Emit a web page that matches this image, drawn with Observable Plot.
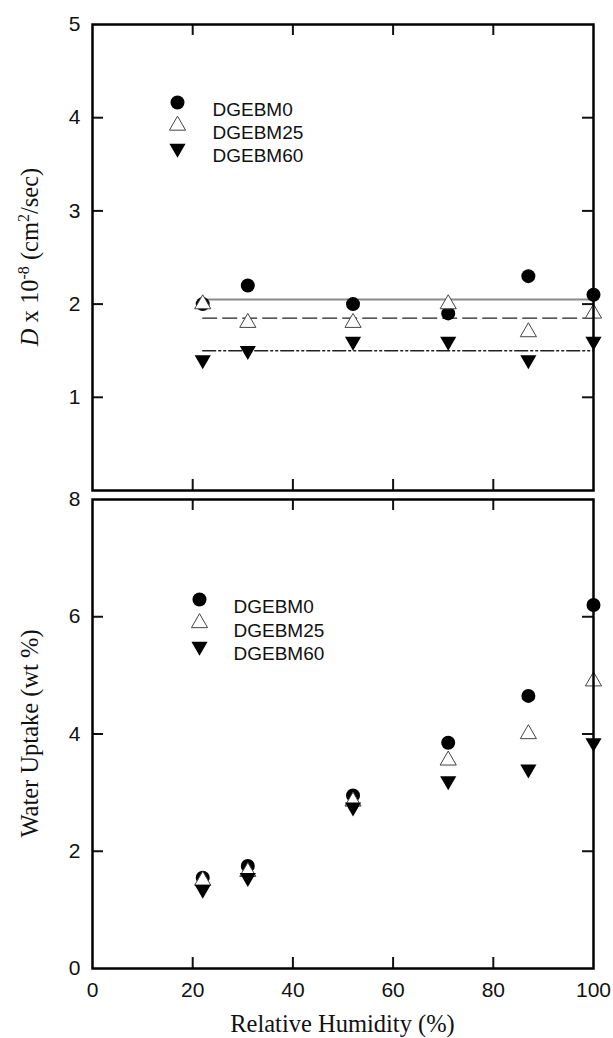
<!DOCTYPE html>
<html><head><meta charset="utf-8">
<script src="https://cdn.jsdelivr.net/npm/d3@7"></script>
<script src="https://cdn.jsdelivr.net/npm/@observablehq/plot@0.6"></script>
<style>body{margin:0;background:#fff} #chart svg{display:block;overflow:visible}</style>
</head><body><div id="chart"></div>
<script>
// ---- data ----
const humidity = [22, 31, 52, 71, 87, 100];
const seriesNames = ["DGEBM0", "DGEBM25", "DGEBM60"];
const diffM0 = [2.0, 2.2, 2.0, 1.9, 2.3, 2.1];
const diffM25 = [2.0, 1.8, 1.8, 2.0, 1.7, 1.9];
const diffM60 = [1.4, 1.5, 1.6, 1.6, 1.4, 1.6];
const diffFit = [2.05, 1.85, 1.5];
const fitRange = [22, 100];
const uptakeM0 = [1.55, 1.75, 2.95, 3.85, 4.65, 6.2];
const uptakeM25 = [1.5, 1.65, 2.85, 3.55, 4.0, 4.9];
const uptakeM60 = [1.35, 1.55, 2.75, 3.2, 3.4, 3.85];
const xTickLabels = [0, 20, 40, 60, 80, 100];
const xInnerTicks = [20, 40, 60, 80];
const diffTickLabels = [1, 2, 3, 4, 5];
const diffInnerTicks = [1, 2, 3, 4];
const uptakeTickLabels = [0, 2, 4, 6, 8];
const uptakeInnerTicks = [2, 4, 6];

const W = 613, ML = 92, MR = 20;
const frameW = W - ML - MR;
const TL = 11; // tick length
const sans = "'Liberation Sans', Arial, sans-serif";
const serif = "'Liberation Serif', 'Times New Roman', serif";
const TITLE = 24.5;

const symStyles = [
  {symbol: "circle", fill: "black", stroke: "none", r: 7, rotate: 0},
  {symbol: "triangle", fill: "white", stroke: "#444", r: 6, rotate: 0},
  {symbol: "triangle", fill: "black", stroke: "none", r: 6, rotate: 180}
];

function seriesMarks(vals) {
  return vals.map((arr, k) => Plot.dot(humidity.map((h, i) => ({h, v: arr[i]})), {
    x: "h", y: "v", symbol: symStyles[k].symbol, fill: symStyles[k].fill,
    stroke: symStyles[k].stroke, strokeWidth: 1, r: symStyles[k].r, rotate: symStyles[k].rotate
  }));
}
function legendMarks(dx, dy0, step, textDx) {
  const out = [];
  seriesNames.forEach((name, k) => {
    out.push(Plot.dot([name], {frameAnchor: "top-left", dx, dy: dy0 + k * step,
      symbol: symStyles[k].symbol, fill: symStyles[k].fill, stroke: symStyles[k].stroke,
      strokeWidth: 1, r: symStyles[k].r, rotate: symStyles[k].rotate}));
    out.push(Plot.text([name], {frameAnchor: "top-left", dx: textDx, dy: dy0 + k * step,
      text: d => d, textAnchor: "start", fontSize: 19, fill: "#111", fontFamily: sans}));
  });
  return out;
}
function tickMarks(yInner, frameH) {
  return [
    Plot.tickX(xInnerTicks, {x: d => d, insetBottom: frameH - TL, strokeWidth: 2}),
    Plot.tickX(xInnerTicks, {x: d => d, insetTop: frameH - TL, strokeWidth: 2}),
    Plot.tickY(yInner, {y: d => d, insetRight: frameW - TL, strokeWidth: 2}),
    Plot.tickY(yInner, {y: d => d, insetLeft: frameW - TL, strokeWidth: 2})
  ];
}
const fmt = d => String(d);

// ---- top panel ----
const topH = 492, topMT = 24, topMB = 2;
const topFrameH = topH - topMT - topMB;
const fitData = [];
diffFit.forEach((v, k) => fitRange.forEach(x => fitData.push({k, x, v})));
const dashes = [null, "14,6", "13,3,2,3,2,3"];
const fitColors = ["#8a8a8a", "#222", "#222"];
const fitWidths = [2, 1.4, 1.4];

const topPlot = Plot.plot({
  width: W, height: topH, marginLeft: ML, marginRight: MR, marginTop: topMT, marginBottom: topMB,
  x: {domain: [0, 100], axis: null},
  y: {domain: [0, 5], axis: null},
  style: {fontFamily: sans, fontSize: "21px", color: "#111", background: "white"},
  marks: [
    ...diffFit.map((v, k) => Plot.line(fitData.filter(d => d.k === k), {
      x: "x", y: "v", stroke: fitColors[k], strokeWidth: fitWidths[k], strokeDasharray: dashes[k]})),
    ...seriesMarks([diffM0, diffM25, diffM60]),
    ...legendMarks(85, 78, 23, 120),
    Plot.axisY(diffTickLabels, {tickSize: 0, tickPadding: 12, label: null, fontSize: 21, tickFormat: fmt}),
    ...tickMarks(diffInnerTicks, topFrameH),
    Plot.frame({stroke: "black", strokeWidth: 2.5})
  ]
});

// ---- bottom panel ----
const botH = 546, botMT = 7, botMB = 70;
const botFrameH = botH - botMT - botMB;
const bottomPlot = Plot.plot({
  width: W, height: botH, marginLeft: ML, marginRight: MR, marginTop: botMT, marginBottom: botMB,
  x: {domain: [0, 100]},
  y: {domain: [0, 8]},
  style: {fontFamily: sans, fontSize: "21px", color: "#111", background: "white"},
  marks: [
    ...seriesMarks([uptakeM0, uptakeM25, uptakeM60]),
    ...legendMarks(107, 100, 23.5, 141),
    Plot.axisY(uptakeTickLabels, {tickSize: 0, tickPadding: 12, label: null, fontSize: 21, tickFormat: fmt}),
    Plot.axisX(xTickLabels, {tickSize: 0, tickPadding: 14, label: null, fontSize: 21, tickFormat: fmt}),
    ...tickMarks(uptakeInnerTicks, botFrameH),
    Plot.frame({stroke: "black", strokeWidth: 2.5})
  ]
});

const chart = document.getElementById("chart");
chart.appendChild(topPlot);
chart.appendChild(bottomPlot);

// axis titles (serif, with rich text)
const tsv = d3.select(topPlot);
const t1 = tsv.append("text")
  .attr("transform", `translate(38,${topMT + topFrameH / 2}) rotate(-90)`)
  .attr("text-anchor", "middle").attr("font-family", serif).attr("font-size", TITLE).attr("fill", "#111");
t1.append("tspan").attr("font-style", "italic").text("D");
t1.append("tspan").text(" x 10");
t1.append("tspan").attr("dy", -9).attr("font-size", 16).text("-8");
t1.append("tspan").attr("dy", 9).text(" (cm");
t1.append("tspan").attr("dy", -9).attr("font-size", 16).text("2");
t1.append("tspan").attr("dy", 9).text("/sec)");

const bsv = d3.select(bottomPlot);
bsv.append("text")
  .attr("transform", `translate(38,${botMT + botFrameH / 2}) rotate(-90)`)
  .attr("text-anchor", "middle").attr("font-family", serif).attr("font-size", TITLE).attr("fill", "#111")
  .text("Water Uptake (wt %)");
bsv.append("text")
  .attr("x", ML + frameW / 2).attr("y", botH - 6)
  .attr("text-anchor", "middle").attr("font-family", serif).attr("font-size", TITLE).attr("fill", "#111")
  .text("Relative Humidity (%)");
</script>
</body></html>
